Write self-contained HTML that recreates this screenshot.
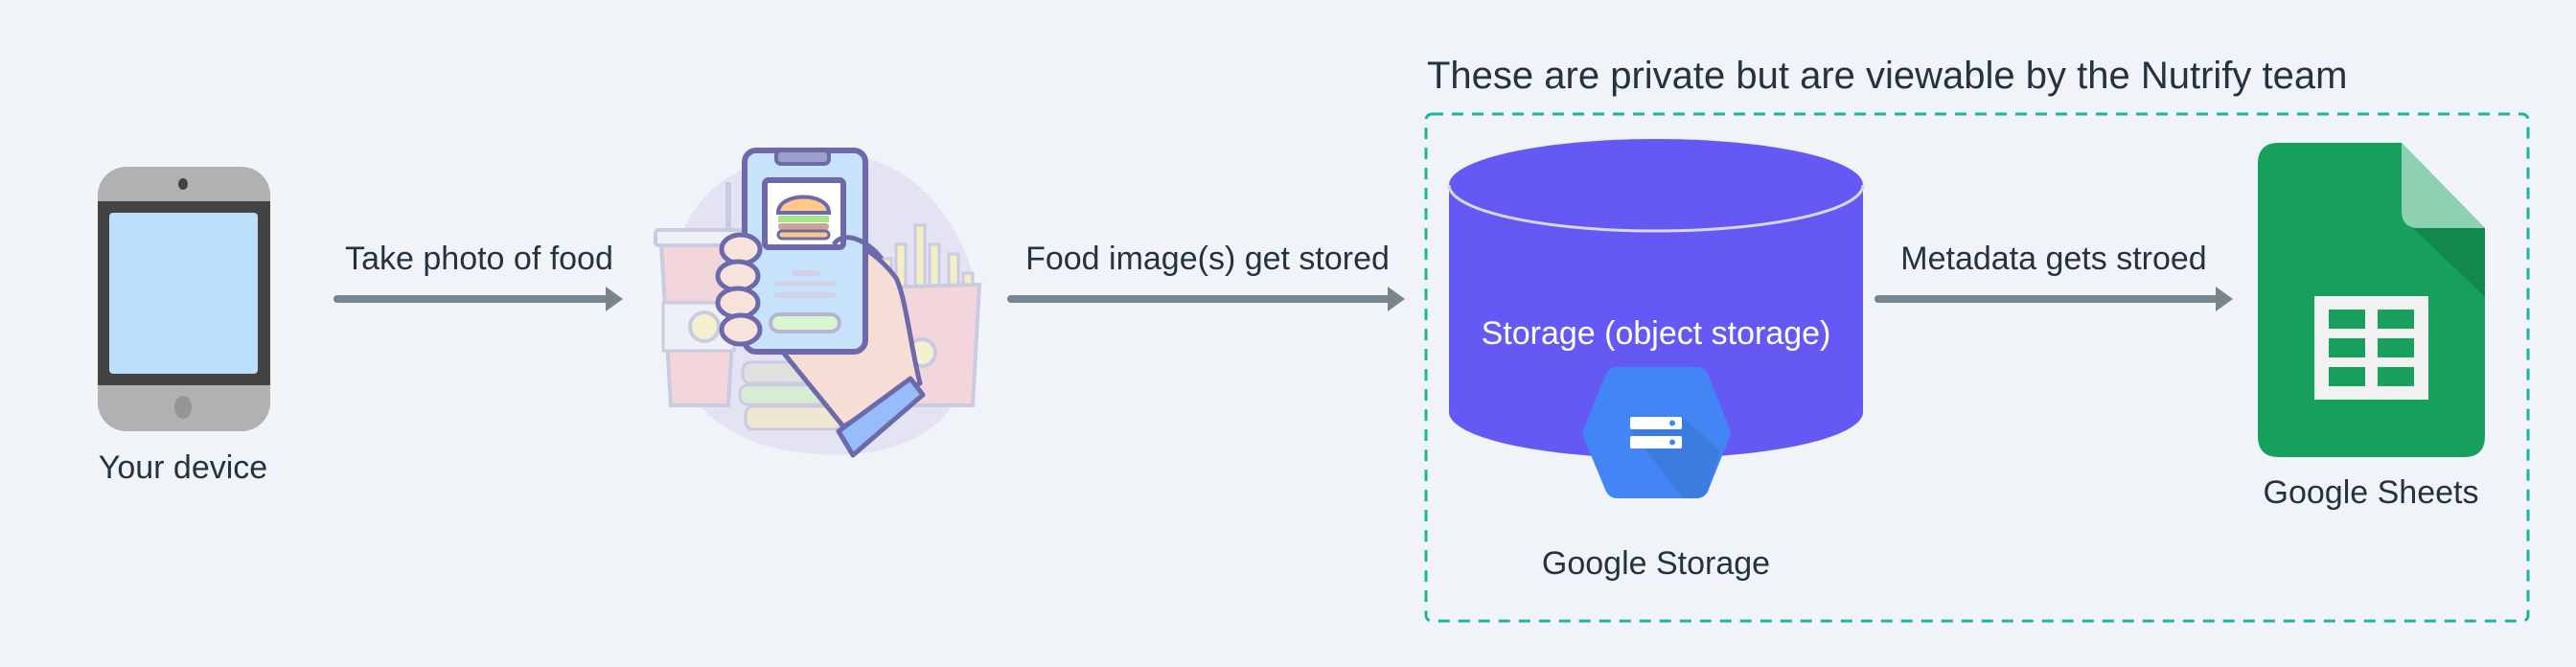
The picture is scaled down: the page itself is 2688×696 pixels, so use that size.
<!DOCTYPE html>
<html><head><meta charset="utf-8"><style>
html,body{margin:0;padding:0;background:#f0f4f8;}
body{width:2688px;height:696px;overflow:hidden;position:relative;font-family:"Liberation Sans",sans-serif;}
</style></head><body>
<svg width="2688" height="696" viewBox="0 0 2688 696" xmlns="http://www.w3.org/2000/svg" style="position:absolute;left:0;top:0">
<rect width="2688" height="696" fill="#f0f4f8"/>
<g font-family="Liberation Sans, sans-serif" fill="#25323f" font-size="34">
<text x="1489" y="92" font-size="40">These are private but are viewable by the Nutrify team</text>
<text x="500" y="281" text-anchor="middle">Take photo of food</text>
<text x="1260" y="281" text-anchor="middle">Food image(s) get stored</text>
<text x="2143" y="281" text-anchor="middle">Metadata gets stroed</text>
<text x="191" y="499" text-anchor="middle">Your device</text>
<text x="1728" y="599" text-anchor="middle">Google Storage</text>
<text x="2474" y="525" text-anchor="middle">Google Sheets</text>
</g>
<!-- dashed box -->
<rect x="1488" y="119" width="1150" height="529" rx="6" fill="none" stroke="#1fb39b" stroke-width="3" stroke-dasharray="12 9"/>
<!-- arrows -->
<g fill="#78858f" stroke="#78858f" stroke-width="8" stroke-linecap="round">
<line x1="352" y1="312" x2="636" y2="312"/>
<line x1="1055" y1="312" x2="1452" y2="312"/>
<line x1="1960" y1="312" x2="2316" y2="312"/>
</g>
<g fill="#78858f">
<path d="M632 299 L650 312 L632 325 Z"/>
<path d="M1448 299 L1466 312 L1448 325 Z"/>
<path d="M2312 299 L2330 312 L2312 325 Z"/>
</g>
<!-- phone -->
<rect x="102" y="174" width="180" height="276" rx="30" fill="#b1b1b1"/>
<rect x="102" y="210" width="180" height="192" fill="#424242"/>
<rect x="114" y="222" width="155" height="168" rx="4" fill="#bbdefb"/>
<ellipse cx="191" cy="192" rx="5" ry="6" fill="#424242"/>
<ellipse cx="191" cy="425" rx="9" ry="12" fill="#959595"/>
<!-- illustration -->
<g>
<path d="M760 185 C 820 150 880 150 930 175 C 960 190 990 220 1010 270 C 1030 330 1020 400 980 440 C 940 475 880 480 820 470 C 760 460 710 420 697 360 C 685 290 710 215 760 185 Z" fill="#e3e3f3"/>
<!-- cup -->
<path d="M690 255 L770 255 L760 423 L700 423 Z" fill="#f3d6db" stroke="#cacbe0" stroke-width="4"/>
<rect x="684" y="240" width="92" height="16" rx="3" fill="#eef0f8" stroke="#cacbe0" stroke-width="4"/>
<rect x="692" y="316" width="74" height="50" fill="#eef0f8" stroke="#cacbe0" stroke-width="3"/>
<circle cx="735" cy="341" r="15" fill="#f3f1d0" stroke="#cacbe0" stroke-width="4"/>
<line x1="760" y1="190" x2="760" y2="240" stroke="#cacbe0" stroke-width="6"/>
<!-- fries -->
<g stroke="#cacbe0" stroke-width="3" fill="#f4eec4">
<rect x="955" y="235" width="10" height="70"/><rect x="935" y="255" width="10" height="55"/>
<rect x="970" y="255" width="10" height="55"/><rect x="990" y="265" width="10" height="45"/>
<rect x="920" y="270" width="10" height="40"/><rect x="1005" y="285" width="10" height="30"/>
</g>
<path d="M915 300 L1022 297 L1015 423 L925 423 Z" fill="#f3d6db" stroke="#cacbe0" stroke-width="4"/>
<circle cx="962" cy="368" r="14" fill="#f3f1d0" stroke="#cacbe0" stroke-width="4"/>
<!-- burger stack -->
<rect x="775" y="378" width="105" height="22" rx="8" fill="#e2dfe0" stroke="#cacbe0" stroke-width="3"/>
<rect x="772" y="402" width="108" height="20" rx="8" fill="#d8ecd4" stroke="#cacbe0" stroke-width="3"/>
<rect x="778" y="424" width="100" height="24" rx="8" fill="#f1e6d0" stroke="#cacbe0" stroke-width="3"/>
<!-- hand -->
<path d="M815 365 L880 445 L960 400 C 950 360 945 310 935 290 C 920 270 900 255 880 250 L 870 360 Z" fill="#f6ddd6" stroke="#6d6aab" stroke-width="5" stroke-linejoin="round"/>
<path d="M875 450 L950 395 L963 412 L890 475 Z" fill="#96bcf9" stroke="#6d6aab" stroke-width="5" stroke-linejoin="round"/>
<!-- phone in hand -->
<rect x="777" y="157" width="126" height="210" rx="12" fill="#c6e3fb" stroke="#6d6aab" stroke-width="6"/>
<rect x="810" y="157" width="55" height="14" rx="5" fill="#9aa0c8" stroke="#6d6aab" stroke-width="4"/>
<rect x="798" y="188" width="82" height="70" rx="4" fill="#ffffff" stroke="#6d6aab" stroke-width="6"/>
<path d="M812 222 C 812 200 865 200 865 222 Z" fill="#fcc98a" stroke="#6d6aab" stroke-width="4"/>
<rect x="812" y="225" width="53" height="7" fill="#a7e48c"/>
<rect x="812" y="233" width="53" height="7" rx="3" fill="#c9a69a"/>
<rect x="812" y="241" width="53" height="8" rx="4" fill="#fcc98a" stroke="#6d6aab" stroke-width="3"/>
<rect x="826" y="282" width="30" height="6" rx="3" fill="#cfd2e8"/>
<rect x="808" y="293" width="64" height="6" rx="3" fill="#cfd2e8"/>
<rect x="808" y="305" width="64" height="6" rx="3" fill="#cfd2e8"/>
<rect x="804" y="328" width="72" height="18" rx="9" fill="#d8f5cd" stroke="#b7b6d2" stroke-width="4"/>
<!-- fingers -->
<g fill="#f8e3dc" stroke="#6d6aab" stroke-width="5">
<ellipse cx="773" cy="260" rx="20" ry="15"/>
<ellipse cx="770" cy="288" rx="21" ry="15"/>
<ellipse cx="770" cy="316" rx="21" ry="15"/>
<ellipse cx="773" cy="344" rx="20" ry="15"/>
</g>
<path d="M870 255 C 880 240 905 250 920 270" fill="none" stroke="#6d6aab" stroke-width="5"/>
</g>
<!-- cylinder -->
<path d="M1512 193 L1512 430 A216 48 0 0 0 1944 430 L1944 193 Z" fill="#6559f5"/>
<ellipse cx="1728" cy="193" rx="216" ry="48" fill="#6559f5"/>
<path d="M1512 193 A216 48 0 0 0 1944 193" fill="none" stroke="#d8d8dc" stroke-width="3"/>
<text x="1728" y="359" text-anchor="middle" font-family="Liberation Sans, sans-serif" font-size="34" fill="#ffffff">Storage (object storage)</text>
<!-- hexagon -->
<path d="M1688 383 L1770 383 Q1778 383 1782 390 L1804 446 Q1807 452 1804 458 L1782 513 Q1778 520 1770 520 L1688 520 Q1680 520 1676 513 L1653 458 Q1650 452 1653 446 L1676 390 Q1680 383 1688 383 Z" fill="#4285f4"/>
<path d="M1701 448 L1755 435 L1795 470 L1782 513 Q1778 520 1770 520 L1756 520 Z" fill="#3d7bdf"/>
<rect x="1701" y="435" width="54" height="13" rx="2" fill="#ffffff"/>
<rect x="1701" y="455" width="54" height="13" rx="2" fill="#ffffff"/>
<circle cx="1745" cy="441.5" r="3" fill="#4285f4"/>
<circle cx="1745" cy="461.5" r="3" fill="#4285f4"/>
<!-- google sheets -->
<path d="M2378 149 L2506 149 L2593 238 L2593 455 Q2593 477 2571 477 L2378 477 Q2356 477 2356 455 L2356 171 Q2356 149 2378 149 Z" fill="#17a05d"/>
<path d="M2506 149 L2506 220 Q2506 238 2524 238 L2593 238 Z" fill="#8ed1b1"/>
<path d="M2518 238 L2593 238 L2593 310 Z" fill="#12884f"/>
<rect x="2415" y="309" width="119" height="108" fill="#f1f1f1"/>
<g fill="#17a05d">
<rect x="2430" y="323" width="38" height="20"/><rect x="2481" y="323" width="38" height="20"/>
<rect x="2430" y="353" width="38" height="20"/><rect x="2481" y="353" width="38" height="20"/>
<rect x="2430" y="383" width="38" height="20"/><rect x="2481" y="383" width="38" height="20"/>
</g>
</svg>
</body></html>
